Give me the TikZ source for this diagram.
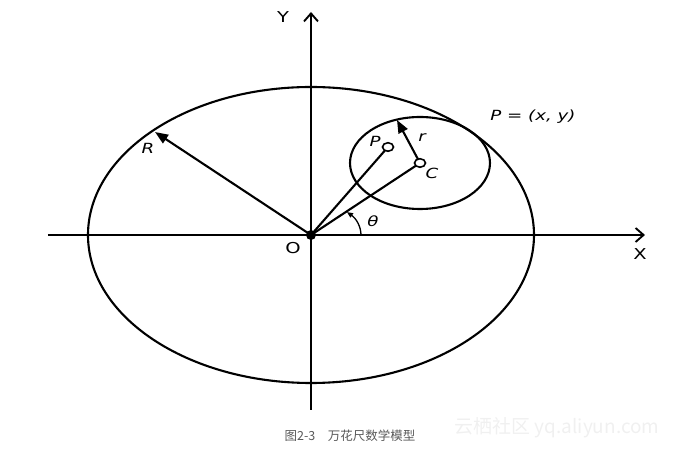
\documentclass[tikz,border=0pt]{standalone}
\usepackage{fontspec}
\setmainfont{DejaVu Sans}
\newfontfamily\cjk{Noto Sans CJK SC}
\usetikzlibrary{arrows.meta}

\begin{document}
\begin{tikzpicture}[x=1pt,y=1pt,line width=2.1pt,
    lbl/.style={font=\fontsize{14}{14}\selectfont\itshape,inner sep=0pt,xscale=1.3,transform shape},
    ax/.style={-{Straight Barb[length=8pt,width=14pt,line width=1.9pt]}},
    vec/.style={-{Triangle[length=13pt,width=10pt]}},
    hole/.style={circle,draw,fill=white,inner sep=0pt,minimum size=8.5pt,line width=1.6pt,xscale=1.3,transform shape}]
  \useasboundingbox (-311,-214) rectangle (370,235);
  % axes
  \coordinate (O) at (0,0);
  \coordinate (xl) at (-263,0);
  \coordinate (xr) at (334,0);
  \coordinate (yb) at (0,-175);
  \coordinate (yt) at (0,223);
  \draw[ax] (xl) -- (xr);
  \draw[ax] (yb) -- (yt);
  % big and small circle
  \draw (O) ellipse[x radius=223,y radius=148];
  \coordinate (C) at (109,72);
  \coordinate (P) at (77,88);
  \draw (C) ellipse[x radius=70,y radius=46];
  \coordinate (Rtip) at (-156,103);
  \coordinate (rtip) at (86,115);
  \draw[vec] (O) -- (Rtip);
  \draw (O) -- (C);
  \draw (O) -- (P);
  \draw[vec] (C) -- (rtip);
  \node[hole] (Pm) at (P) {};
  \node[hole] (Cm) at (C) {};
  \fill (O) circle[radius=5];
  % angle
  \draw[line width=1.3pt,-{Triangle[length=6pt,width=5pt]}] (50,0) arc[start angle=0,end angle=44,x radius=50,y radius=33];
  % labels
  \node[lbl,font=\fontsize{15}{15}\selectfont] (ylab) at (-28,218) {Y};
  \node[lbl,font=\fontsize{15}{15}\selectfont] (xlab) at (329,-19) {X};
  \node[lbl,font=\fontsize{15}{15}\selectfont] (olab) at (-18,-13) {O};
  \node[lbl] (Rlab) at (-163,87) {R};
  \node[lbl] (rlab) at (111,97) {r};
  \node[lbl] (Plab) at (64,94) {P};
  \node[lbl] (Clab) at (121,62) {C};
  \node[lbl] (tlab) at (62,14) {θ};
  \node[lbl] (pxy) at (222,118) {P = (x, y)};
  \node[font=\cjk\fontsize{12.5}{12.5}\selectfont,text=black!65] (cap) at (39,-201) {图2-3\quad 万花尺数学模型};
  \node[font=\cjk\fontsize{19}{19}\selectfont,text=black!6] (wm) at (246,-193) {云栖社区 yq.aliyun.com};
\end{tikzpicture}
\end{document}
